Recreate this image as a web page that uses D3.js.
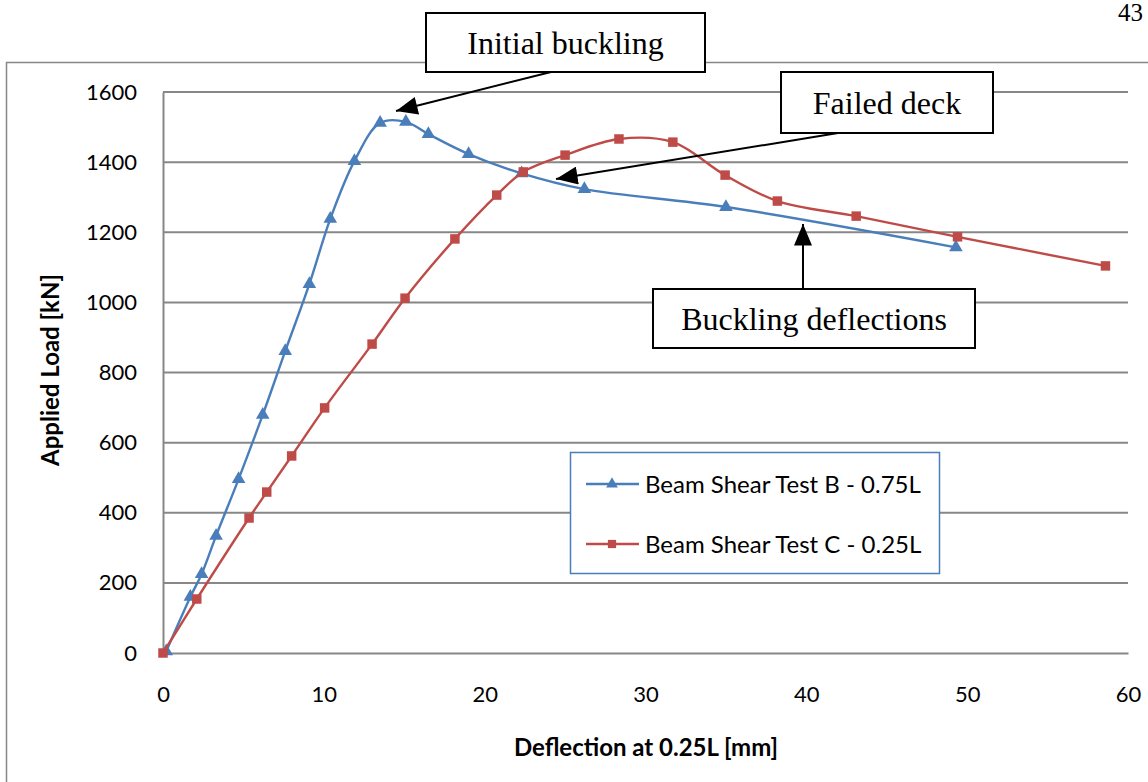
<!DOCTYPE html>
<html>
<head>
<meta charset="utf-8">
<script src="https://cdn.jsdelivr.net/npm/d3@7"></script>
<style>
  html, body { margin: 0; padding: 0; background: #ffffff; }
  svg { display: block; }
</style>
</head>
<body>
<svg id="chart" width="1148" height="782"></svg>
<script>
// Load–deflection data for the two beam shear tests
const seriesNames = ["Beam Shear Test B - 0.75L", "Beam Shear Test C - 0.25L"];

const testBDeflection = [0.2, 1.7, 2.4, 3.3, 4.7, 6.2, 7.6, 9.1, 10.4, 11.9, 13.5, 15.1, 16.5, 19.0, 22.3, 26.2, 35.0, 49.3];
const testBLoad       = [5, 160, 225, 334, 496, 679, 861, 1052, 1238, 1403, 1512, 1515, 1480, 1423, 1368, 1323, 1272, 1157];

const testCDeflection = [0, 2.1, 5.35, 6.45, 8.0, 10.05, 13.0, 15.05, 18.15, 20.75, 22.4, 25.0, 28.35, 31.7, 34.95, 38.2, 43.1, 49.4, 58.6];
const testCLoad       = [0, 154, 385, 459, 562, 699, 881, 1012, 1181, 1306, 1372, 1420, 1466, 1457, 1363, 1289, 1246, 1187, 1104];

const xTicks = [0, 10, 20, 30, 40, 50, 60];
const yTicks = [0, 200, 400, 600, 800, 1000, 1200, 1400, 1600];

const xTitle = "Deflection at 0.25L [mm]";
const yTitle = "Applied Load [kN]";

const annotations = [
  { text: "Initial buckling",     box: [426, 13, 279, 59],  from: [551, 72],  to: [396, 111] },
  { text: "Failed deck",          box: [781, 72, 212, 61],  from: [838, 133], to: [556, 179] },
  { text: "Buckling deflections", box: [653, 289, 322, 59], from: [803, 289], to: [803, 224] }
];

const BLUE = "#4A7EBB", RED = "#BE4B48", GRID = "#878787";
const sansFont = "Lato, 'Open Sans', sans-serif";
const serifFont = "'Liberation Serif', 'DejaVu Serif', serif";

const svg = d3.select("#chart");

const x = d3.scaleLinear().domain([0, 60]).range([163, 1128]);
const y = d3.scaleLinear().domain([0, 1600]).range([653, 92]);

// Outer chart-area frame (runs off the right and bottom of the page)
svg.append("rect")
  .attr("x", 6.5).attr("y", 62.5)
  .attr("width", 1200).attr("height", 800)
  .attr("fill", "none").attr("stroke", GRID).attr("stroke-width", 1.5);

// Page number at the top right
svg.append("text")
  .attr("x", 1143).attr("y", 21)
  .attr("text-anchor", "end")
  .attr("font-family", serifFont).attr("font-size", 25)
  .attr("fill", "#000").text("43");

// Horizontal gridlines
svg.append("g").selectAll("line")
  .data(yTicks.filter(d => d > 0))
  .join("line")
  .attr("x1", x(0)).attr("x2", x(60))
  .attr("y1", d => y(d)).attr("y2", d => y(d))
  .attr("stroke", GRID).attr("stroke-width", 2);

// Axes
const yAxis = svg.append("g")
  .attr("transform", `translate(${x(0)},0)`)
  .call(d3.axisLeft(y).tickValues(yTicks).tickFormat(d3.format("d")).tickSize(0).tickPadding(26));
const xAxis = svg.append("g")
  .attr("transform", `translate(0,${y(0)})`)
  .call(d3.axisBottom(x).tickValues(xTicks).tickFormat(d3.format("d")).tickSize(0).tickPadding(33));

[xAxis, yAxis].forEach(g => {
  g.select(".domain").attr("stroke", GRID).attr("stroke-width", 2);
  g.selectAll("text")
    .attr("font-family", sansFont).attr("font-size", 22).attr("fill", "#000");
});

// Axis titles
svg.append("text")
  .attr("x", 646).attr("y", 756)
  .attr("text-anchor", "middle")
  .attr("font-family", sansFont).attr("font-size", 24).attr("font-weight", "bold")
  .text(xTitle);
svg.append("text")
  .attr("transform", "translate(59,370) rotate(-90)")
  .attr("text-anchor", "middle")
  .attr("font-family", sansFont).attr("font-size", 24).attr("font-weight", "bold")
  .text(yTitle);

// Series
const series = [
  { name: seriesNames[0], color: BLUE, marker: d3.symbolTriangle, size: 80,
    pts: testBDeflection.map((d, i) => [d, testBLoad[i]]) },
  { name: seriesNames[1], color: RED, marker: d3.symbolSquare, size: 90,
    pts: testCDeflection.map((d, i) => [d, testCLoad[i]]) }
];

const line = d3.line()
  .x(d => x(d[0])).y(d => y(d[1]))
  .curve(d3.curveCatmullRom.alpha(0.5));

series.forEach(s => {
  const g = svg.append("g");
  g.append("path")
    .attr("d", line(s.pts))
    .attr("fill", "none").attr("stroke", s.color).attr("stroke-width", 2.4);
  g.selectAll("path.mk")
    .data(s.pts)
    .join("path")
    .attr("class", "mk")
    .attr("transform", d => `translate(${x(d[0])},${y(d[1])})`)
    .attr("d", d3.symbol().type(s.marker).size(s.size))
    .attr("fill", s.color);
});

// Legend
const legend = svg.append("g");
legend.append("rect")
  .attr("x", 570.5).attr("y", 452.5).attr("width", 369).attr("height", 121)
  .attr("fill", "#fff").attr("stroke", BLUE).attr("stroke-width", 1.5);
series.forEach((s, i) => {
  const ly = 484 + i * 60;
  legend.append("line")
    .attr("x1", 586).attr("x2", 639).attr("y1", ly).attr("y2", ly)
    .attr("stroke", s.color).attr("stroke-width", 2.4);
  legend.append("path")
    .attr("transform", `translate(612,${ly})`)
    .attr("d", d3.symbol().type(s.marker).size(s.size * 0.75))
    .attr("fill", s.color);
  legend.append("text")
    .attr("x", 645).attr("y", ly)
    .attr("dy", "0.36em")
    .attr("font-family", sansFont).attr("font-size", 24).attr("fill", "#000")
    .text(s.name);
});

// Callout boxes with solid arrowheads
const defs = svg.append("defs");
defs.append("marker")
  .attr("id", "arrowhead")
  .attr("viewBox", "0 0 12 10")
  .attr("refX", 12).attr("refY", 5)
  .attr("markerWidth", 22).attr("markerHeight", 18)
  .attr("markerUnits", "userSpaceOnUse")
  .attr("orient", "auto")
  .append("path").attr("d", "M0,0 L12,5 L0,10 Z").attr("fill", "#000");

annotations.forEach(a => {
  svg.append("line")
    .attr("x1", a.from[0]).attr("y1", a.from[1])
    .attr("x2", a.to[0]).attr("y2", a.to[1])
    .attr("stroke", "#000").attr("stroke-width", 2)
    .attr("marker-end", "url(#arrowhead)");
  const [bx, by, bw, bh] = a.box;
  svg.append("rect")
    .attr("x", bx).attr("y", by).attr("width", bw).attr("height", bh)
    .attr("fill", "#fff").attr("stroke", "#000").attr("stroke-width", 2);
  svg.append("text")
    .attr("x", bx + bw / 2).attr("y", by + bh / 2)
    .attr("dy", "0.35em")
    .attr("text-anchor", "middle")
    .attr("font-family", serifFont).attr("font-size", 32).attr("fill", "#000")
    .text(a.text);
});
</script>
</body>
</html>
